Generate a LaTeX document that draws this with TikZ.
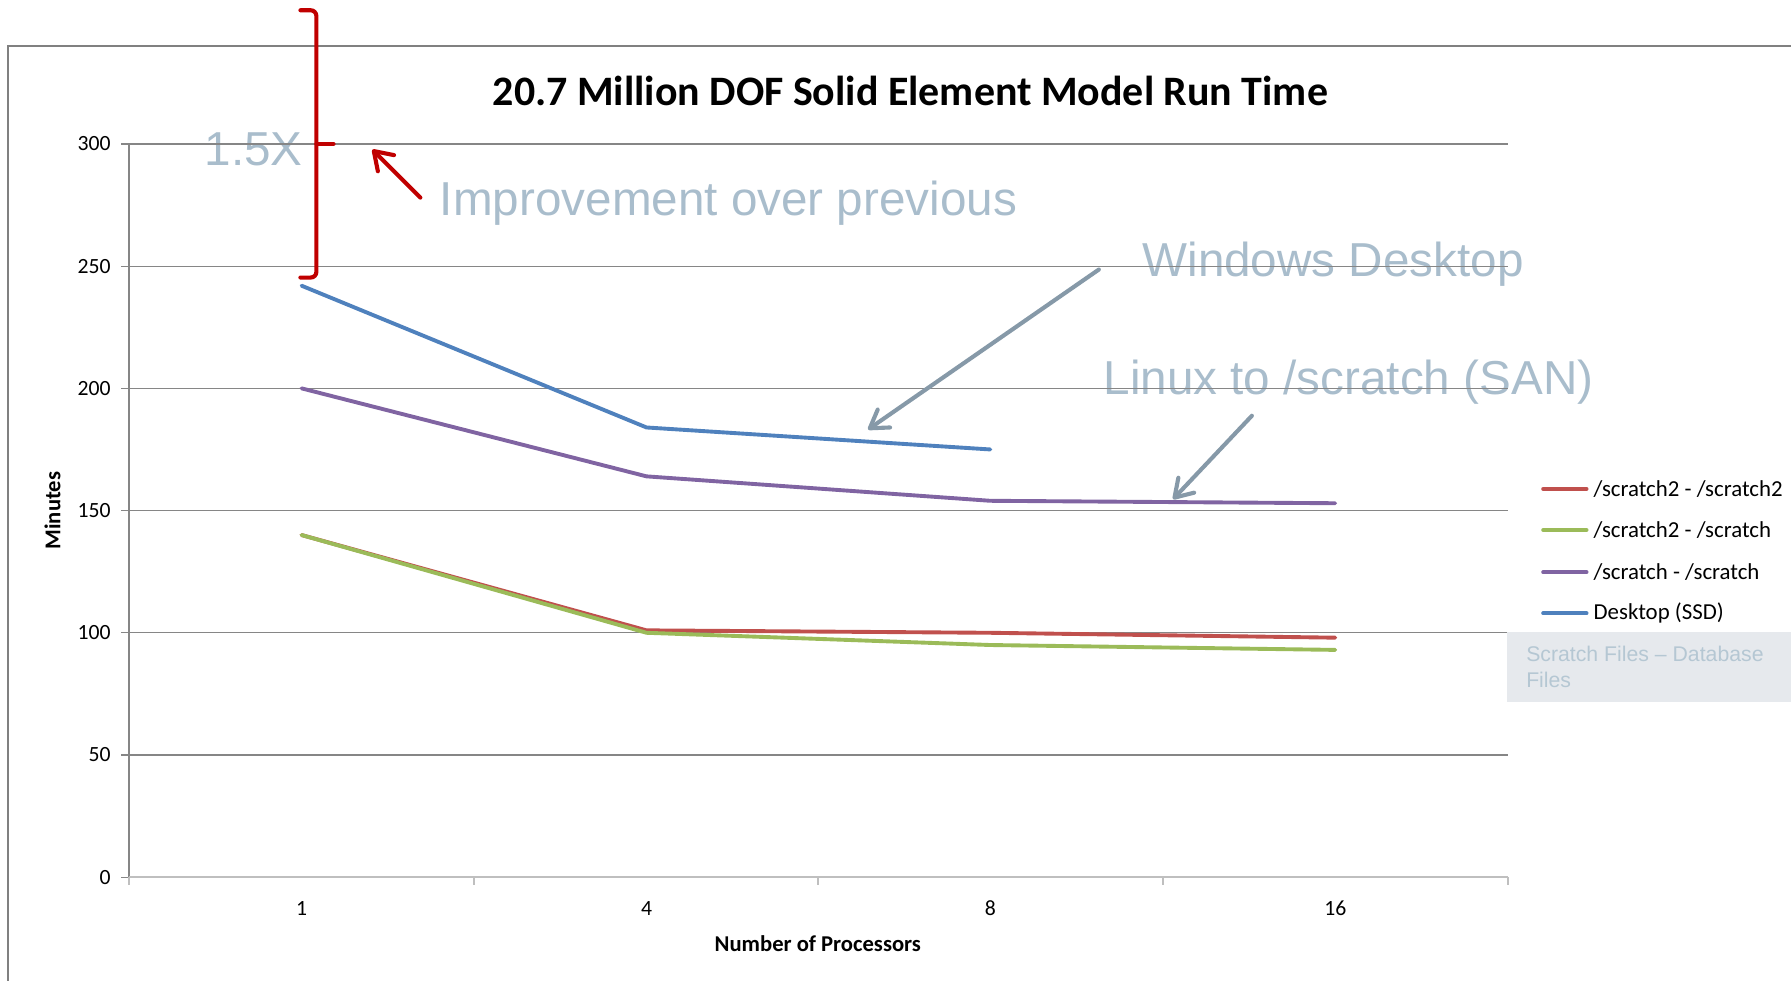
\documentclass[tikz,border=0pt]{standalone}
\usepackage{fontspec}
\setmainfont{Carlito}
\newfontfamily\arialf{Liberation Sans}
\usetikzlibrary{arrows.meta}

\definecolor{gridgray}{HTML}{868686}
\definecolor{axisgray}{HTML}{BFBFBF}
\definecolor{framegray}{HTML}{808080}
\definecolor{notetext}{HTML}{A9BDCC}
\definecolor{notearrow}{HTML}{8699A8}
\definecolor{bracketred}{HTML}{C00000}
\definecolor{boxfill}{HTML}{E6E9ED}
\definecolor{boxtext}{HTML}{B5C7D3}
\definecolor{serred}{HTML}{C0504D}
\definecolor{sergreen}{HTML}{9BBB59}
\definecolor{serpurple}{HTML}{8064A2}
\definecolor{serblue}{HTML}{4F81BD}

\tikzset{
  grid line/.style={draw=gridgray, line width=1.1pt},
  series/.style={line width=3.4pt, line cap=round, line join=round},
  ticklabel/.style={font=\fontsize{19}{22}\selectfont, text=black, inner sep=0pt},
  axistitle/.style={font=\fontsize{19.8}{22}\selectfont\bfseries, text=black, inner sep=0pt},
  legendtext/.style={font=\fontsize{20}{22}\selectfont, anchor=west, inner sep=0pt},
  note/.style={font=\arialf\fontsize{41.7}{48}\selectfont, text=notetext, anchor=base west, inner sep=0pt},
  notepointer/.style={draw=notearrow, line width=3.6pt, line cap=round,
    -{Straight Barb[length=15pt,width=19pt,line join=round,line cap=round]}},
  redpointer/.style={draw=bracketred, line width=3.6pt, line cap=round,
    -{Straight Barb[length=15pt,width=20pt,line join=round,line cap=round]}},
}

\begin{document}
\begin{tikzpicture}[x=1pt, y=-1pt, declare function={yv(\v)=768-2.14*\v;}]
\useasboundingbox (0,0) rectangle (1568,858);

% chart frame
\draw[framegray, line width=1.8pt] (7,870) -- (7,40) -- (1580,40);

% title
\node[font=\fontsize{36.7}{42}\selectfont\bfseries, inner sep=0pt] (title) at (797,80)
  {20.7 Million DOF Solid Element Model Run Time};

% annotation texts
\node[note] (factor) at (179,145) {1.5X};
\node[note] (improve) at (385,189) {Improvement over previous};
\node[note] (windesk) at (1000,242.5) {Windows Desktop};
\node[note] (linuxsan) at (966,345) {Linux to /scratch (SAN)};

% gridlines and y ticks
\foreach \v in {50,100,...,300} {
  \draw[grid line] (106,{yv(\v)}) -- (1320,{yv(\v)});
  \node[ticklabel, anchor=east] (ylab\v) at (97,{yv(\v)}) {\v};
}
\node[ticklabel, anchor=east] (ylab0) at (97,768) {0};
\draw[grid line] (106,768) -- (113,768);
\draw[grid line] (113,768) -- (113,126);

% x axis
\draw[axisgray, line width=2pt] (113,768) -- (1320,768);
\foreach \x in {113,415,716,1018,1320}
  \draw[axisgray, line width=2pt] (\x,768) -- (\x,775);
\node[ticklabel] (xlab1) at (264,795) {1};
\node[ticklabel] (xlab4) at (566,795) {4};
\node[ticklabel] (xlab8) at (867,795) {8};
\node[ticklabel] (xlab16) at (1169,795) {16};

% axis titles
\node[axistitle] (xtitle) at (716,826) {Number of Processors};
\node[axistitle, rotate=90] (ytitle) at (46,447) {Minutes};

% data series
\draw[series, serred] (264,{yv(140)}) -- (566,{yv(101)}) -- (867,{yv(100)}) -- (1169,{yv(98)});
\draw[series, sergreen] (264,{yv(140)}) -- (566,{yv(100)}) -- (867,{yv(95)}) -- (1169,{yv(93)});
\draw[series, serpurple] (264,{yv(200)}) -- (566,{yv(164)}) -- (867,{yv(154)}) -- (1169,{yv(153)});
\draw[series, serblue] (264,{yv(242)}) -- (566,{yv(184)}) -- (867,{yv(175)});

% legend
\foreach \c/\yy/\lab in {serred/428/{/scratch2 - /scratch2},
                         sergreen/464/{/scratch2 - /scratch},
                         serpurple/501/{/scratch - /scratch},
                         serblue/537/{Desktop (SSD)}} {
  \draw[series, \c] (1351,\yy) -- (1389,\yy);
  \node[legendtext] at (1395,\yy) {\lab};
}

% grey caption box
\fill[boxfill] (1319,553) rectangle (1570,615);
\node[font=\arialf\fontsize{18.6}{22.5}\selectfont, text=boxtext, anchor=base west, inner sep=0pt]
  (cap1) at (1336,579) {Scratch Files – Database};
\node[font=\arialf\fontsize{18.6}{22.5}\selectfont, text=boxtext, anchor=base west, inner sep=0pt]
  (cap2) at (1336,601.5) {Files};

% bracket
\draw[bracketred, line width=3.6pt, rounded corners=5pt, line cap=round]
  (263,9) -- (277,9) -- (277,243) -- (263,243);
\draw[bracketred, line width=3.6pt, line cap=round] (277,126) -- (292,126);

% pointers
\coordinate (redtail) at (368,173);
\coordinate (redtip) at (326,131);
\draw[redpointer] (redtail) -- (redtip);
\coordinate (wintail) at (962,236);
\coordinate (wintip) at (760,376);
\draw[notepointer] (wintail) -- (wintip);
\coordinate (lintail) at (1096,364);
\coordinate (lintip) at (1027,437);
\draw[notepointer] (lintail) -- (lintip);
\end{tikzpicture}
\end{document}
